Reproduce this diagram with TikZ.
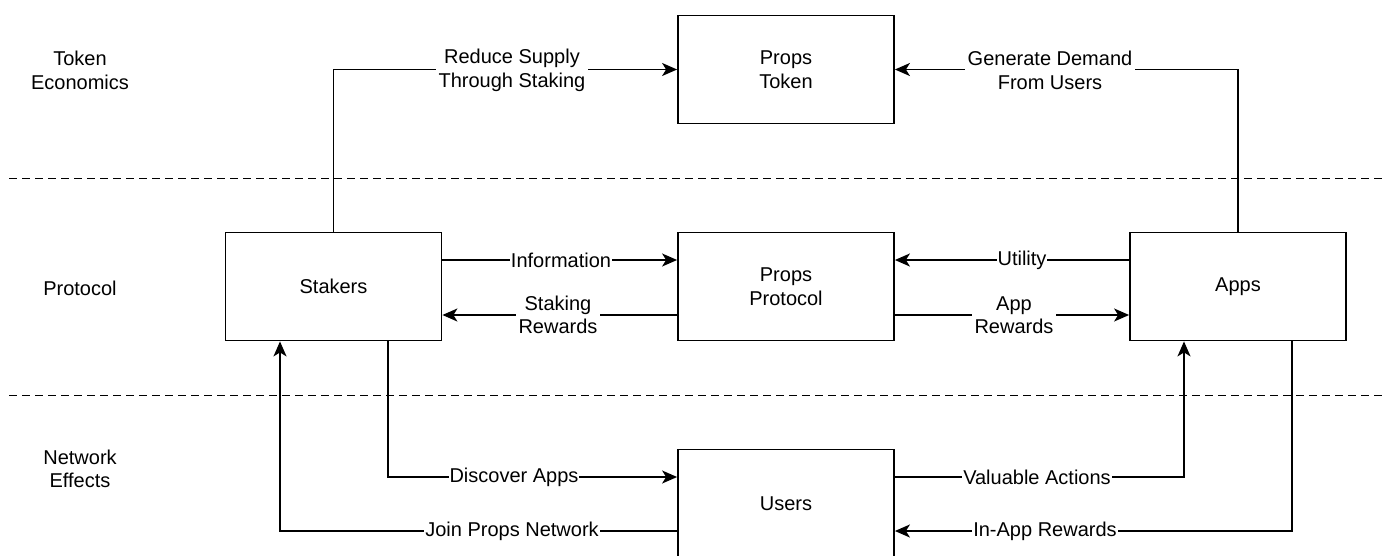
\documentclass[tikz,border=0pt]{standalone}
\usepackage{fontspec}
\setmainfont{Liberation Sans}
\usetikzlibrary{arrows.meta}
\begin{document}
\begin{tikzpicture}[x=1pt,y=-1pt,
  font=\fontsize{20}{23.5}\selectfont,
  box/.style={draw, line width=1.8pt, minimum width=216pt, minimum height=108pt, align=center, inner sep=0pt},
  conn/.style={line width=1.7pt, -{Stealth[length=15pt,width=13pt,inset=4pt]}},
  lbl/.style={fill=white, inner sep=3pt, align=center},
  lane/.style={align=center},
  sep/.style={line width=1.4pt, dash pattern=on 8pt off 5pt}]
\clip (0,0) rectangle (1387,555);
\useasboundingbox (0,0) rectangle (1387,555);
% lane separators
\coordinate (s1a) at (9,178.5);
\coordinate (s1b) at (1383,178.5);
\coordinate (s2a) at (9,395.5);
\coordinate (s2b) at (1383,395.5);
\draw[sep] (s1a) -- (s1b);
\draw[sep] (s2a) -- (s2b);
% lane labels
\node[lane] (l1) at (80,70.5) {Token\\Economics};
\node[lane] (l2) at (80,288) {Protocol};
\node[lane] (l3) at (80,469) {Network\\Effects};
% boxes
\node[box] (token) at (786,69.5) {Props\\Token};
\node[box] (proto) at (786,286.5) {Props\\Protocol};
\node[box] (stak) at (333.5,286.5) {Stakers};
\node[box] (apps) at (1238,286.5) {Apps};
\node[box] (users) at (786,503.5) {Users};
% connectors
\draw[conn] (stak.north) |- (token.west);
\draw[conn] (apps.north) |- (token.east);
\draw[conn] ([yshift=26.5pt]stak.east) -- ([yshift=26.5pt]proto.west);
\draw[conn] ([yshift=-28.5pt]proto.west) -- ([yshift=-28.5pt]stak.east);
\draw[conn] ([yshift=26.5pt]apps.west) -- ([yshift=26.5pt]proto.east);
\draw[conn] ([yshift=-28.5pt]proto.east) -- ([yshift=-28.5pt]apps.west);
\draw[conn] ([xshift=54.5pt]stak.south) |- ([yshift=26.5pt]users.west);
\draw[conn] ([yshift=-27.5pt]users.west) -| ([xshift=-53.5pt]stak.south);
\draw[conn] ([yshift=26.5pt]users.east) -| ([xshift=-54pt]apps.south);
\draw[conn] ([xshift=54pt]apps.south) |- ([yshift=-27.5pt]users.east);
% connector labels
\node[lbl] (t1) at (512,70.5) {Reduce Supply\\Through Staking};
\node[lbl] (t2) at (1050,70.5) {Generate Demand\\From Users};
\node[lbl, inner xsep=1pt] (t3) at (561,260) {Information};
\node[lbl] (t4) at (558,315) {Staking\\Rewards};
\node[lbl, inner xsep=1pt] (t5) at (1022,260) {Utility};
\node[lbl] (t6) at (1014,315) {App\\Rewards};
\node[lbl, inner xsep=1pt] (t7) at (514,477) {Discover Apps};
\node[lbl, inner xsep=1pt] (t8) at (512,531) {Join Props Network};
\node[lbl, inner xsep=1pt] (t9) at (1037,477) {Valuable Actions};
\node[lbl, inner xsep=1pt] (t10) at (1045,531) {In-App Rewards};
\end{tikzpicture}
\end{document}
